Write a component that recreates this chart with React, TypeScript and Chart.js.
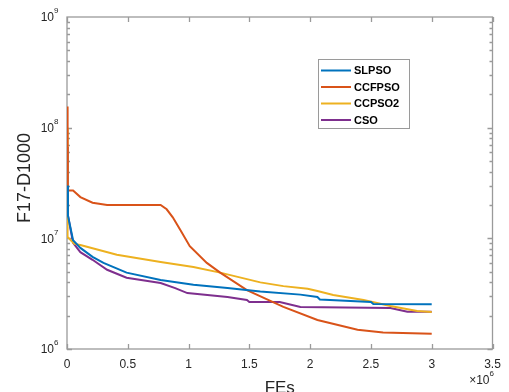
import React, { useEffect, useRef } from 'react';
import { Chart, registerables } from 'chart.js';

Chart.register(...registerables);

// ---- data ----
const seriesNames = ['SLPSO', 'CCFPSO', 'CCPSO2', 'CSO'];
const seriesColors = ['#0072BD', '#D95319', '#EDB120', '#7E2F8E'];

const slpsoX = [0, 0.008e6, 0.05e6, 0.11e6, 0.21e6, 0.30e6, 0.49e6, 0.77e6, 1.04e6, 1.32e6, 1.59e6, 1.92e6, 2.06e6, 2.08e6, 2.5e6, 2.52e6, 3.0e6];
const slpsoY = [3.0e7, 1.6e7, 9.6e6, 8.2e6, 6.8e6, 6.0e6, 4.9e6, 4.2e6, 3.8e6, 3.55e6, 3.3e6, 3.1e6, 2.95e6, 2.8e6, 2.66e6, 2.55e6, 2.54e6];

const ccfpsoX = [0, 0.005e6, 0.05e6, 0.11e6, 0.21e6, 0.33e6, 0.77e6, 0.82e6, 0.87e6, 0.93e6, 1.01e6, 1.15e6, 1.26e6, 1.48e6, 1.78e6, 2.06e6, 2.39e6, 2.6e6, 3.0e6];
const ccfpsoY = [1.55e8, 2.7e7, 2.7e7, 2.36e7, 2.1e7, 2.0e7, 2.0e7, 1.83e7, 1.55e7, 1.2e7, 8.5e6, 6.0e6, 4.9e6, 3.4e6, 2.4e6, 1.83e6, 1.49e6, 1.41e6, 1.37e6];

const ccpso2X = [0, 0.002e6, 0.004e6, 0.008e6, 0.06e6, 0.11e6, 0.41e6, 0.77e6, 1.04e6, 1.26e6, 1.59e6, 1.78e6, 1.98e6, 2.06e6, 2.19e6, 2.44e6, 2.66e6, 2.88e6, 3.0e6];
const ccpso2Y = [1.0e8, 6.5e7, 1.2e7, 1.03e7, 8.9e6, 8.7e6, 7.1e6, 6.1e6, 5.5e6, 4.9e6, 4.0e6, 3.7e6, 3.5e6, 3.34e6, 3.07e6, 2.77e6, 2.45e6, 2.2e6, 2.16e6];

const csoX = [0, 0.008e6, 0.05e6, 0.11e6, 0.21e6, 0.33e6, 0.49e6, 0.77e6, 0.89e6, 0.99e6, 1.32e6, 1.48e6, 1.5e6, 1.75e6, 1.92e6, 2.66e6, 2.8e6, 3.0e6];
const csoY = [6.7e7, 1.6e7, 9.1e6, 7.5e6, 6.4e6, 5.2e6, 4.4e6, 3.95e6, 3.55e6, 3.2e6, 2.95e6, 2.77e6, 2.66e6, 2.66e6, 2.4e6, 2.35e6, 2.17e6, 2.17e6];

const seriesXs = [slpsoX, ccfpsoX, ccpso2X, csoX];
const seriesYs = [slpsoY, ccfpsoY, ccpso2Y, csoY];

const xTickValues = [0, 0.5e6, 1.0e6, 1.5e6, 2.0e6, 2.5e6, 3.0e6, 3.5e6];
const xTickLabels = ['0', '0.5', '1', '1.5', '2', '2.5', '3', '3.5'];
const yMajorTicks = [1e6, 1e7, 1e8, 1e9];
const yTickExponents = ['6', '7', '8', '9'];
const yTitle = 'F17-D1000';
const xTitle = 'FEs';
const xExponentLabel = '6';

const FONT = '"Liberation Sans", Arial, Helvetica, sans-serif';
const AXIS_COLOR = '#9a9a9a';
const TEXT_COLOR = '#262626';

const framePlugin = {
  id: 'matlabFrame',
  beforeDatasetsDraw(chart: any) {
    const { ctx, chartArea } = chart;
    const { left, right, top, bottom } = chartArea;
    const xs = chart.scales.x;
    const ys = chart.scales.y;
    ctx.save();
    ctx.strokeStyle = AXIS_COLOR;
    ctx.lineWidth = 1.3;
    ctx.strokeRect(left, top, right - left, bottom - top);
    ctx.beginPath();
    for (const v of xTickValues) {
      const px = Math.round(xs.getPixelForValue(v)) + 0.5;
      ctx.moveTo(px, bottom);
      ctx.lineTo(px, bottom - 5);
      ctx.moveTo(px, top);
      ctx.lineTo(px, top + 5);
    }
    for (let d = 6; d < 9; d++) {
      for (let m = 1; m <= 9; m++) {
        const v = m * Math.pow(10, d);
        const py = Math.round(ys.getPixelForValue(v)) + 0.5;
        const len = m === 1 ? 5 : 3;
        ctx.moveTo(left, py);
        ctx.lineTo(left + len, py);
        ctx.moveTo(right, py);
        ctx.lineTo(right - len, py);
      }
    }
    ctx.stroke();
    ctx.restore();
  },
  afterDraw(chart: any) {
    const { ctx, chartArea } = chart;
    const { left, right, top, bottom } = chartArea;
    const ys = chart.scales.y;
    ctx.save();
    ctx.fillStyle = TEXT_COLOR;
    // y tick labels
    yMajorTicks.forEach((v, i) => {
      const py = ys.getPixelForValue(v);
      ctx.font = `12px ${FONT}`;
      ctx.textAlign = 'right';
      ctx.textBaseline = 'middle';
      ctx.fillText('10', left - 13, py + 1);
      ctx.font = `8px ${FONT}`;
      ctx.textAlign = 'left';
      ctx.fillText(yTickExponents[i], left - 13, py - 6);
    });
    // y title
    ctx.save();
    ctx.translate(25, 178);
    ctx.rotate(-Math.PI / 2);
    ctx.font = `18px ${FONT}`;
    ctx.textAlign = 'center';
    ctx.textBaseline = 'middle';
    ctx.fillText(yTitle, 0, 0);
    ctx.restore();
    // x title
    ctx.font = `17px ${FONT}`;
    ctx.textAlign = 'center';
    ctx.textBaseline = 'middle';
    ctx.fillText(xTitle, (left + right) / 2, 388);
    // x exponent
    ctx.font = `12px ${FONT}`;
    ctx.textAlign = 'right';
    ctx.fillText('\u00d710', right - 3, 381);
    ctx.font = `8px ${FONT}`;
    ctx.textAlign = 'left';
    ctx.fillText(xExponentLabel, right - 3, 374);

    // legend
    const bx = 318, by = 59, bw = 91, bh = 69;
    ctx.fillStyle = '#ffffff';
    ctx.fillRect(bx, by, bw, bh);
    ctx.strokeStyle = AXIS_COLOR;
    ctx.lineWidth = 1;
    ctx.strokeRect(bx + 0.5, by + 0.5, bw, bh);
    seriesNames.forEach((name, i) => {
      const ry = 70.5 + i * 16.5;
      ctx.strokeStyle = seriesColors[i];
      ctx.lineWidth = 2;
      ctx.beginPath();
      ctx.moveTo(321, ry);
      ctx.lineTo(351, ry);
      ctx.stroke();
      ctx.fillStyle = '#000000';
      ctx.font = `bold 11px ${FONT}`;
      ctx.textAlign = 'left';
      ctx.textBaseline = 'middle';
      ctx.fillText(name, 354, ry + 0.5);
    });
    ctx.restore();
  },
};

export default function App() {
  const canvasRef = useRef<HTMLCanvasElement | null>(null);

  useEffect(() => {
    const canvas = canvasRef.current;
    if (!canvas) return;
    const datasets = seriesNames.map((name, i) => ({
      label: name,
      data: seriesXs[i].map((x, j) => ({ x, y: seriesYs[i][j] })),
      borderColor: seriesColors[i],
      backgroundColor: seriesColors[i],
      borderWidth: 2,
      pointRadius: 0,
      tension: 0,
      fill: false,
    }));
    const chart = new Chart(canvas, {
      type: 'line',
      data: { datasets },
      options: {
        animation: false,
        responsive: true,
        maintainAspectRatio: false,
        devicePixelRatio: 1,
        layout: { padding: { top: 17, right: 16.5, left: 0, bottom: 0 } },
        plugins: {
          legend: { display: false },
          tooltip: { enabled: false },
        },
        scales: {
          x: {
            type: 'linear',
            min: 0,
            max: 3.5e6,
            afterBuildTicks: (scale: any) => {
              scale.ticks = xTickValues.map((v) => ({ value: v }));
            },
            afterFit: (scale: any) => {
              scale.height = 43;
            },
            ticks: {
              autoSkip: false,
              maxRotation: 0,
              padding: 8,
              color: TEXT_COLOR,
              font: { family: FONT, size: 12 },
              callback: (v: any) => {
                const idx = xTickValues.indexOf(Number(v));
                return idx >= 0 ? xTickLabels[idx] : '';
              },
            },
            grid: { display: false, drawTicks: false },
            border: { display: false },
          },
          y: {
            type: 'logarithmic',
            min: 1e6,
            max: 1e9,
            afterFit: (scale: any) => {
              scale.width = 67;
            },
            ticks: { display: false },
            grid: { display: false, drawTicks: false },
            border: { display: false },
          },
        },
      },
      plugins: [framePlugin],
    });
    return () => chart.destroy();
  }, []);

  return (
    <div style={{ position: 'absolute', left: 0, top: 0, width: 509, height: 392, background: '#ffffff' }}>
      <canvas ref={canvasRef} />
    </div>
  );
}
